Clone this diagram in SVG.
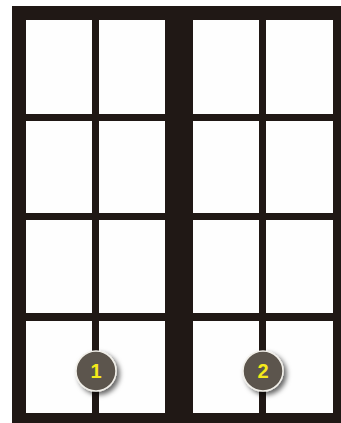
<svg xmlns="http://www.w3.org/2000/svg" width="341" height="423" viewBox="0 0 341 423">
<style>
.frame{fill:#201815}
.pane{fill:#fefefe}
.badge{fill:#5c554d;stroke:#f2f0ea;stroke-width:1.5}
.num{font-family:"Liberation Sans",Arial,sans-serif;font-weight:bold;font-size:20px;fill:#f5ea1a;text-anchor:middle}
</style>
<defs>
<filter id="sh" x="-50%" y="-50%" width="200%" height="200%">
<feDropShadow dx="3" dy="3" stdDeviation="2.5" flood-color="#000" flood-opacity="0.6"/>
</filter>
</defs>
<rect width="341" height="423" fill="#ffffff"/>
<g id="frame">
<rect class="frame" x="12" y="6" width="329" height="417"/>
</g>
<g id="panel-left">
<rect class="pane" x="26" y="20" width="66" height="94"/>
<rect class="pane" x="99" y="20" width="66" height="94"/>
<rect class="pane" x="26" y="121" width="66" height="92"/>
<rect class="pane" x="99" y="121" width="66" height="92"/>
<rect class="pane" x="26" y="220" width="66" height="93"/>
<rect class="pane" x="99" y="220" width="66" height="93"/>
<rect class="pane" x="26" y="321" width="66" height="92"/>
<rect class="pane" x="99" y="321" width="66" height="92"/>
</g>
<g id="panel-right">
<rect class="pane" x="193" y="20" width="66" height="94"/>
<rect class="pane" x="266" y="20" width="67" height="94"/>
<rect class="pane" x="193" y="121" width="66" height="92"/>
<rect class="pane" x="266" y="121" width="67" height="92"/>
<rect class="pane" x="193" y="220" width="66" height="93"/>
<rect class="pane" x="266" y="220" width="67" height="93"/>
<rect class="pane" x="193" y="321" width="66" height="92"/>
<rect class="pane" x="266" y="321" width="67" height="92"/>
</g>
<g id="marker-1">
<circle class="badge" cx="96" cy="371" r="20" filter="url(#sh)"/>
<text class="num" x="96" y="378">1</text>
</g>
<g id="marker-2">
<circle class="badge" cx="263" cy="371" r="20" filter="url(#sh)"/>
<text class="num" x="263" y="378">2</text>
</g>
<g id="connectors"/>
</svg>
